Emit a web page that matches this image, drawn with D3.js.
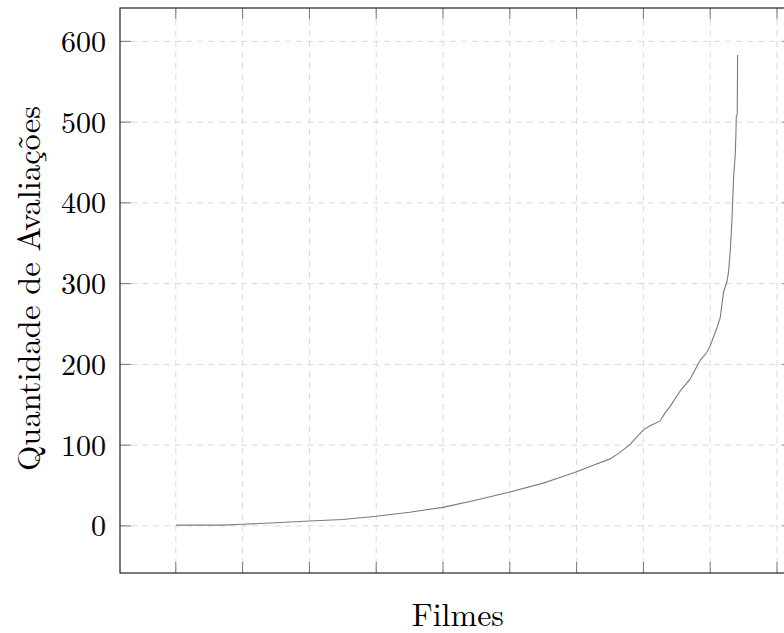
<!DOCTYPE html>
<html>
<head>
<meta charset="UTF-8">
<script src="https://d3js.org/d3.v7.min.js"></script>
<style>
  body { margin: 0; background: #fff; }
  svg { display: block; }
  text { font-family: "Latin Modern Roman", "CMU Serif", "Liberation Serif", serif; fill: #000; }
</style>
</head>
<body>
<svg></svg>
<script>

var width = 784, height = 633;

// filmes ordenados pela quantidade de avaliações
var filmeIdx = [1, 140, 200, 300, 400, 500, 600, 700, 800, 900, 1000, 1100, 1150, 1200, 1250,
  1300, 1330, 1360, 1400, 1420, 1450, 1465, 1480, 1510, 1540, 1570, 1590, 1600, 1620,
  1630, 1640, 1650, 1655, 1660, 1665, 1670, 1675, 1677, 1678, 1681, 1682];
var avaliacoes = [1, 1, 2, 4, 6, 8, 12, 17, 23, 32, 42, 53, 60, 67, 75,
  83, 91, 101, 119, 124, 130, 140, 148, 167, 182, 205, 215, 223, 245,
  258, 290, 302, 315, 340, 378, 432, 460, 485, 507, 509, 583];

var yTicks = [0, 100, 200, 300, 400, 500, 600];
var xTicks = [0, 200, 400, 600, 800, 1000, 1200, 1400, 1600, 1800];

// ("top" é propriedade do window, por isso outros nomes)
var pLeft = 120, pTop = 8, pBottom = 573;

// limites com 10% de margem, como o pgfplots
var xPad = (1682 - 1) * 0.1;
var yPad = 583 * 0.1;

var x = d3.scaleLinear()
  .domain([1 - xPad, 1682 + xPad])
  .range([pLeft, pLeft + (1681 + 2 * xPad) * 0.334]);

var y = d3.scaleLinear()
  .domain([-yPad, 583 + yPad])
  .range([pBottom, pTop]);

var svg = d3.select("svg").attr("width", width).attr("height", height);

var pRight = x.range()[1];

// grade
var grade = svg.append("g").attr("stroke", "#d9d9d9").attr("stroke-width", 1)
  .attr("stroke-dasharray", "6,5");

grade.selectAll(".gx").data(xTicks).enter().append("line")
  .attr("x1", d => x(d)).attr("x2", d => x(d))
  .attr("y1", pTop).attr("y2", pBottom);

grade.selectAll(".gy").data(yTicks).enter().append("line")
  .attr("y1", d => y(d)).attr("y2", d => y(d))
  .attr("x1", pLeft).attr("x2", pRight);

// marcas dos ticks (para dentro)
var marcas = svg.append("g").attr("stroke", "#777").attr("stroke-width", 1);
xTicks.forEach(function (t) {
  marcas.append("line").attr("x1", x(t)).attr("x2", x(t)).attr("y1", pBottom).attr("y2", pBottom - 11);
  marcas.append("line").attr("x1", x(t)).attr("x2", x(t)).attr("y1", pTop).attr("y2", pTop + 11);
});
yTicks.forEach(function (t) {
  marcas.append("line").attr("y1", y(t)).attr("y2", y(t)).attr("x1", pLeft).attr("x2", pLeft + 11);
  marcas.append("line").attr("y1", y(t)).attr("y2", y(t)).attr("x1", pRight).attr("x2", pRight - 11);
});

// curva
var pontos = filmeIdx.map((d, i) => [d, avaliacoes[i]]);
var linha = d3.line().x(d => x(d[0])).y(d => y(d[1]));

svg.append("path")
  .datum(pontos)
  .attr("d", linha)
  .attr("fill", "none")
  .attr("stroke", "#7a7a7a")
  .attr("stroke-width", 1.1);

// moldura
svg.append("rect")
  .attr("x", pLeft).attr("y", pTop)
  .attr("width", pRight - pLeft).attr("height", pBottom - pTop)
  .attr("fill", "none").attr("stroke", "#222").attr("stroke-width", 1.2);

// rótulos do eixo y
svg.selectAll(".ylab").data(yTicks).enter().append("text")
  .attr("x", 106)
  .attr("y", d => y(d))
  .attr("dy", "0.35em")
  .attr("text-anchor", "end")
  .attr("font-size", 30)
  .text(d => d);

svg.append("text")
  .attr("transform", "translate(40," + ((pTop + pBottom) / 2 - 2) + ") rotate(-90)")
  .attr("text-anchor", "middle")
  .attr("font-size", 32.5)
  .text("Quantidade de Avaliações");

svg.append("text")
  .attr("x", (pLeft + pRight) / 2 + 1)
  .attr("y", 626)
  .attr("text-anchor", "middle")
  .attr("font-size", 32)
  .text("Filmes");

</script>
</body>
</html>
